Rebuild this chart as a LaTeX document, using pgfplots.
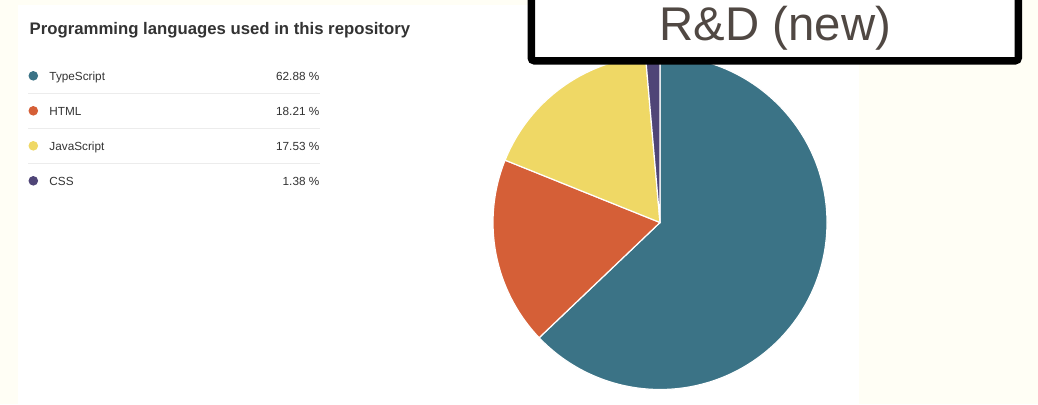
\documentclass[border=0pt]{standalone}
\usepackage{pgfplots}
\pgfplotsset{compat=1.18}
\usepackage{pgfplotstable}
\usepackage{fontspec}
\setmainfont{Liberation Sans}

\definecolor{page}{HTML}{FFFEF5}
\definecolor{ts}{HTML}{3B7386}
\definecolor{html}{HTML}{D55F37}
\definecolor{js}{HTML}{EFD865}
\definecolor{css}{HTML}{4F4577}
\definecolor{txt}{HTML}{333333}
\definecolor{rule}{HTML}{ECECEC}
\definecolor{boxtxt}{HTML}{504843}

% share of each language, in percent
\pgfplotstableread{
lang pct
TypeScript 62.88
HTML 18.21
JavaScript 17.53
CSS 1.38
}\langtable

% slice angles, clockwise from 12 o'clock
\pgfplotstablegetelem{0}{pct}\of\langtable \pgfmathsetmacro\aA{90-3.6*\pgfplotsretval}
\pgfplotstablegetelem{1}{pct}\of\langtable \pgfmathsetmacro\aB{\aA-3.6*\pgfplotsretval}
\pgfplotstablegetelem{2}{pct}\of\langtable \pgfmathsetmacro\aC{\aB-3.6*\pgfplotsretval}
\pgfplotstablegetelem{3}{pct}\of\langtable \pgfmathsetmacro\aD{\aC-3.6*\pgfplotsretval}

\begin{document}
\begin{tikzpicture}[x=1bp,y=1bp]
\useasboundingbox (0,0) rectangle (1038,-404);
\clip (0,0) rectangle (1038,-404);
\fill[page] (0,0) rectangle (1038,-404);
\fill[white] (18,-5) rectangle (859,-410);

% title
\node[anchor=base west, inner sep=0, text=txt, font=\fontsize{16.8}{20}\selectfont\bfseries]
  at (29.5,-34) {Programming languages used in this repository};

% legend list
\foreach \c/\n/\p [count=\i from 0] in {ts/TypeScript/62.88, html/HTML/18.21, js/JavaScript/17.53, css/CSS/1.38} {
  \pgfmathsetmacro\yy{-80-35*\i}
  \fill[\c] (33.3,\yy+4.2) circle (4.8);
  \node[anchor=base west, inner sep=0, text=txt, font=\fontsize{11.8}{14}\selectfont] at (49.3,\yy) {\n};
  \node[anchor=base east, inner sep=0, text=txt, font=\fontsize{11.8}{14}\selectfont] at (319.5,\yy) {\p\ \%};
}
\foreach \i in {0,1,2} {
  \draw[rule, line width=1bp] (28,-93-35*\i) -- (320,-93-35*\i);
}

% pie
\coordinate (pc) at (660,-222.5);
\begin{axis}[at={(pc)}, anchor=origin, x=167bp, y=167bp,
  xmin=-1, xmax=1, ymin=-1, ymax=1, hide axis, clip=false]
\addplot[draw=none, forget plot] coordinates {(0,0)};
\filldraw[fill=ts, draw=white, line width=1.2bp] (axis cs:0,0) -- (axis cs:{cos(90)},{sin(90)})
  arc[start angle=90, end angle=\aA, radius=167bp] -- cycle;
\filldraw[fill=html, draw=white, line width=1.2bp] (axis cs:0,0) -- (axis cs:{cos(\aA)},{sin(\aA)})
  arc[start angle=\aA, end angle=\aB, radius=167bp] -- cycle;
\filldraw[fill=js, draw=white, line width=1.2bp] (axis cs:0,0) -- (axis cs:{cos(\aB)},{sin(\aB)})
  arc[start angle=\aB, end angle=\aC, radius=167bp] -- cycle;
\filldraw[fill=css, draw=white, line width=1.2bp] (axis cs:0,0) -- (axis cs:{cos(\aC)},{sin(\aC)})
  arc[start angle=\aC, end angle=\aD, radius=167bp] -- cycle;
\end{axis}

% overlay box
\draw[black, line width=7.5bp, rounded corners=3bp, fill=white] (531.25,20) rectangle (1018.25,-60.75);
\node[anchor=base, inner sep=0, text=boxtxt, font=\fontsize{47.5}{52}\selectfont] at (775.5,-40.5) {R\&D (new)};
\end{tikzpicture}
\end{document}
